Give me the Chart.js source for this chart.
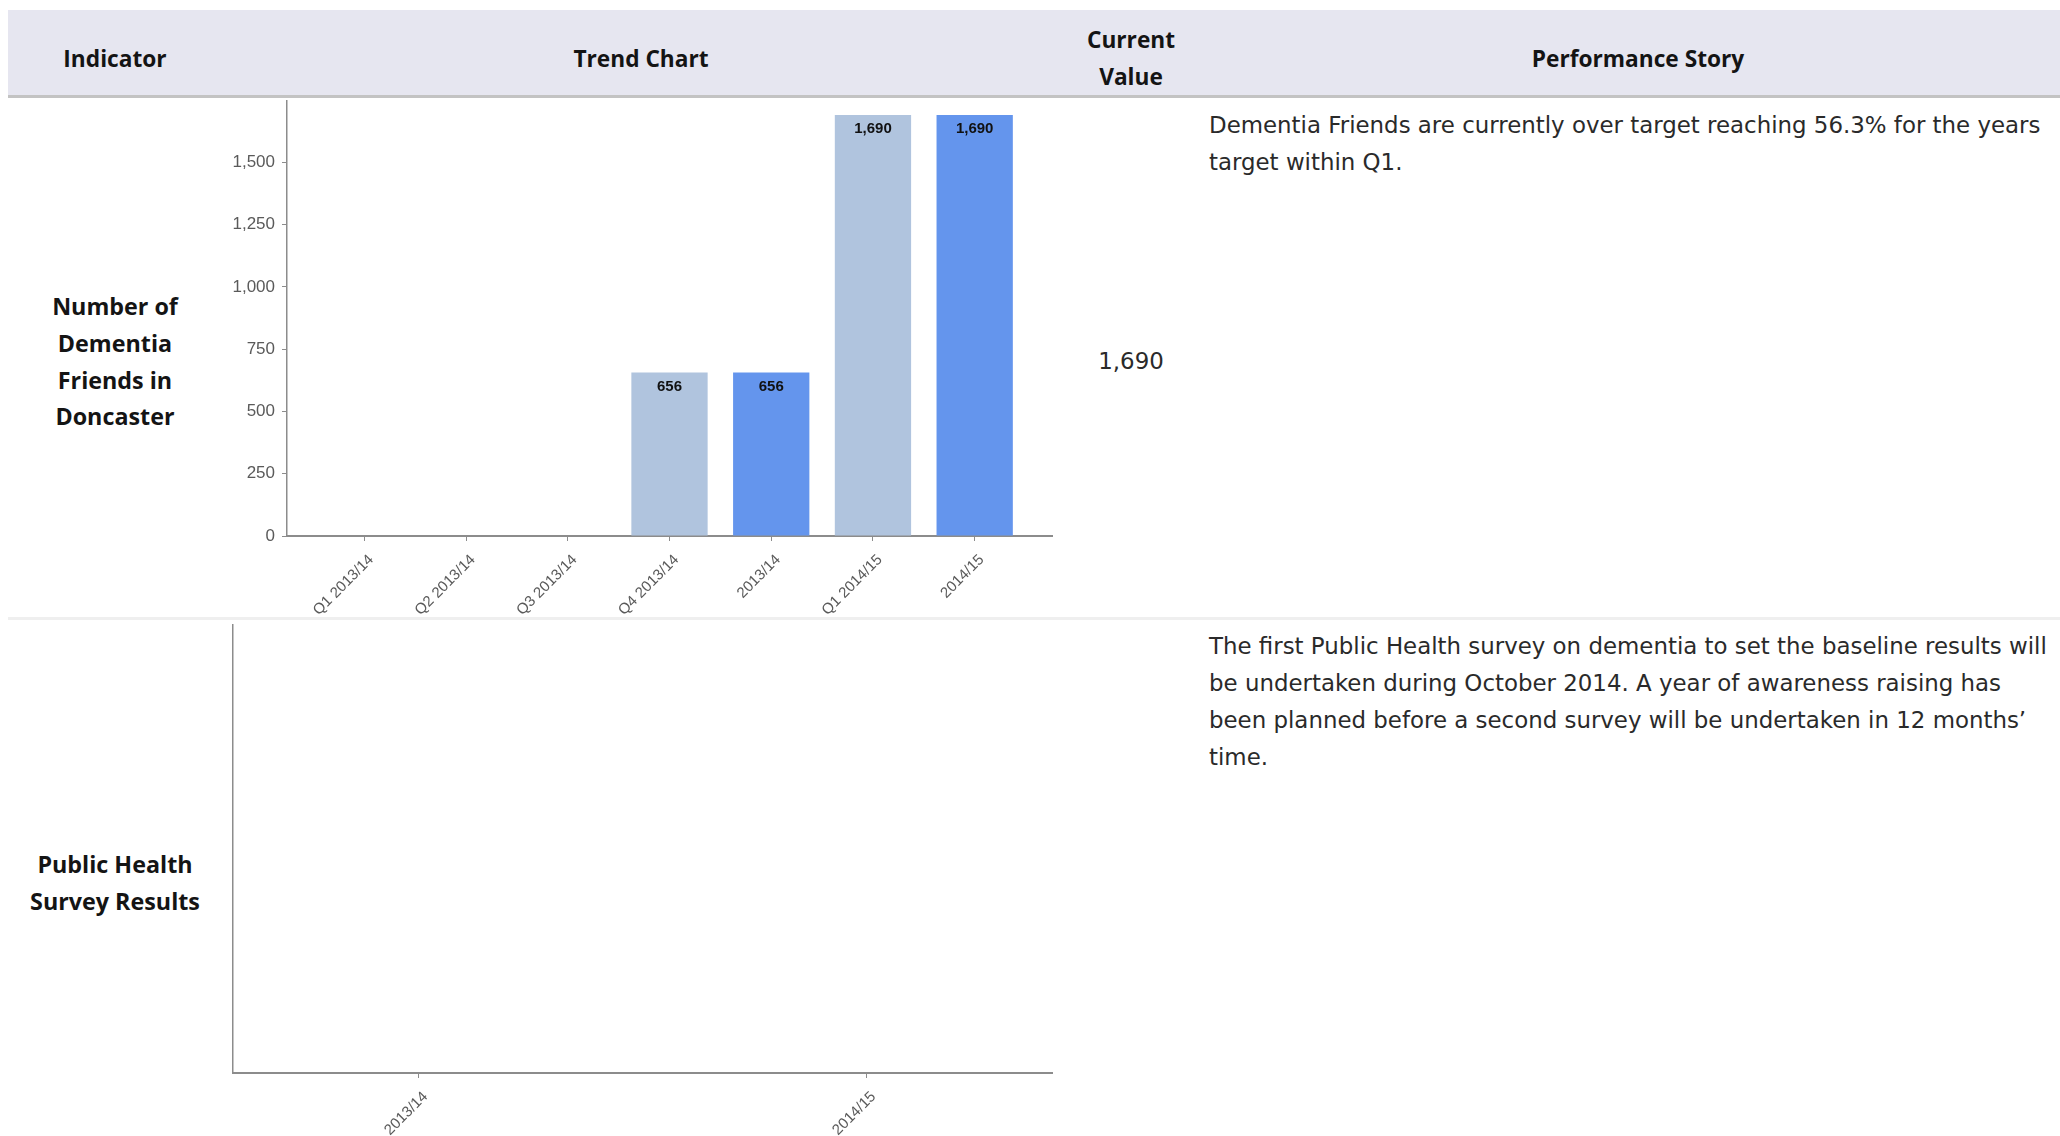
<!DOCTYPE html>
<html>
<head>
<meta charset="utf-8">
<title>Dementia Friends - Trend</title>
<script src="https://cdn.jsdelivr.net/npm/chart.js@4.4.1/dist/chart.umd.min.js"></script>
<style>
  body { margin: 0; width: 2060px; height: 1136px; background: #fff; overflow: hidden; position: relative; font-family: "Open Sans", sans-serif; color: #262626; }
  .head { position: absolute; left: 8px; top: 10px; width: 2052px; height: 85px; background: #e6e6f0; border-bottom: 3px solid #c3c3c3; }
  .sep { position: absolute; left: 8px; top: 617px; width: 2052px; height: 3px; background: #efefef; }
  .txt { position: absolute; font-size: 22.7px; line-height: 37px; white-space: nowrap; }
  .ind { font-size: 23.3px; line-height: 36.8px; }
  .body { font-family: "DejaVu Sans", sans-serif; font-size: 22.9px; color: #2a2a2a; }
  .c { transform: translateX(-50%); text-align: center; }
  .b { font-weight: 700; color: #141414; }
  .box { position: absolute; }
</style>
</head>
<body>

<div class="head"></div>
<div class="sep"></div>

<!-- cabecera -->
<div class="txt c b" style="left:115px; top:40px;">Indicator</div>
<div class="txt c b" style="left:641px; top:40px;">Trend Chart</div>
<div class="txt c b" style="left:1131px; top:21px;">Current<br>Value</div>
<div class="txt c b" style="left:1638px; top:40px;">Performance Story</div>

<!-- fila 1 -->
<div class="txt c b ind" style="left:115px; top:288px;">Number of<br>Dementia<br>Friends in<br>Doncaster</div>
<div class="txt c body" style="left:1131px; top:343px;">1,690</div>
<div class="txt body" style="left:1209px; top:107px;">Dementia Friends are currently over target reaching 56.3% for the years<br>target within Q1.</div>

<!-- fila 2 -->
<div class="txt c b ind" style="left:115px; top:846px;">Public Health<br>Survey Results</div>
<div class="txt body" style="left:1209px; top:628px;">The first Public Health survey on dementia to set the baseline results will<br>be undertaken during October 2014. A year of awareness raising has<br>been planned before a second survey will be undertaken in 12 months’<br>time.</div>

<div class="box" style="left:200px; top:84px;"><canvas id="chartFriends" width="860" height="536"></canvas></div>
<div class="box" style="left:200px; top:620px;"><canvas id="chartSurvey" width="860" height="516"></canvas></div>

<script>
// Datos del gráfico 1
const friendsLabels = ["Q1 2013/14", "Q2 2013/14", "Q3 2013/14", "Q4 2013/14", "2013/14", "Q1 2014/15", "2014/15"];
const friendsValues = [null, null, null, 656, 656, 1690, 1690];
const friendsColors = ["#b0c4de", "#b0c4de", "#b0c4de", "#b0c4de", "#6495ed", "#b0c4de", "#6495ed"];
const friendsTicks = [0, 250, 500, 750, 1000, 1250, 1500];

// Datos del gráfico 2 (sin resultados todavía)
const surveyLabels = ["2013/14", "2014/15"];
const surveyValues = [null, null];

Chart.defaults.font.family = "'Liberation Sans', Arial, sans-serif";
Chart.defaults.color = "#5a5a5a";

const fmt = v => v.toLocaleString("en-US");

// etiquetas de valor dentro de la barra
const barLabels = {
  id: "barLabels",
  afterDatasetsDraw(chart) {
    const ctx = chart.ctx;
    const meta = chart.getDatasetMeta(0);
    ctx.save();
    ctx.font = "bold 15px 'Liberation Sans', Arial, sans-serif";
    ctx.fillStyle = "#111";
    ctx.textAlign = "center";
    ctx.textBaseline = "middle";
    meta.data.forEach((bar, i) => {
      const v = chart.data.datasets[0].data[i].y;
      if (v == null) return;
      ctx.fillText(fmt(v), bar.x, bar.y + 14);
    });
    ctx.restore();
  }
};

const axisGrid = { drawOnChartArea: false, drawTicks: true, tickLength: 5, color: "#8c8c8c", offset: false };
const xTickFont = { size: 15 };

const ctx1 = document.getElementById("chartFriends").getContext("2d");
new Chart(ctx1, {
  type: "bar",
  data: {
    datasets: [{
      data: friendsValues.map((v, i) => ({ x: i, y: v })),
      backgroundColor: friendsColors,
      barPercentage: 0.75,
      categoryPercentage: 1
    }]
  },
  options: {
    responsive: false,
    animation: false,
    layout: { padding: { top: 12, right: 8, left: 0, bottom: 0 } },
    plugins: { legend: { display: false }, tooltip: { enabled: false } },
    scales: {
      x: {
        type: "linear",
        offset: false,
        min: -0.76,
        max: 6.76,
        afterBuildTicks: axis => { axis.ticks = friendsLabels.map((_, i) => ({ value: i })); },
        afterFit: axis => { axis.height = 84; },
        grid: axisGrid,
        border: { display: true, color: "#8c8c8c", width: 2 },
        ticks: {
          autoSkip: false,
          minRotation: 45,
          maxRotation: 45,
          padding: 10,
          labelOffset: 7,
          font: xTickFont,
          callback: v => friendsLabels[v]
        }
      },
      y: {
        min: 0,
        max: 1745,
        afterBuildTicks: axis => { axis.ticks = friendsTicks.map(v => ({ value: v })); },
        afterFit: axis => { axis.width = 87; },
        grid: axisGrid,
        border: { display: true, color: "#8c8c8c", width: 1.5 },
        ticks: { padding: 7, font: { size: 17 }, callback: v => fmt(v) }
      }
    }
  },
  plugins: [barLabels]
});

const ctx2 = document.getElementById("chartSurvey").getContext("2d");
new Chart(ctx2, {
  type: "bar",
  data: {
    datasets: [{
      data: surveyValues.map((v, i) => ({ x: i, y: v })),
      backgroundColor: "#6495ed"
    }]
  },
  options: {
    responsive: false,
    animation: false,
    layout: { padding: { top: 5, right: 8, left: 0, bottom: 0 } },
    plugins: { legend: { display: false }, tooltip: { enabled: false } },
    scales: {
      x: {
        type: "linear",
        offset: false,
        min: -0.414,
        max: 1.414,
        afterBuildTicks: axis => { axis.ticks = surveyLabels.map((_, i) => ({ value: i })); },
        afterFit: axis => { axis.height = 63; },
        grid: axisGrid,
        border: { display: true, color: "#8c8c8c", width: 2 },
        ticks: {
          autoSkip: false,
          minRotation: 45,
          maxRotation: 45,
          padding: 10,
          labelOffset: 7,
          font: xTickFont,
          callback: v => surveyLabels[v]
        }
      },
      y: {
        min: 0,
        max: 1,
        afterFit: axis => { axis.width = 33; },
        grid: { display: false },
        border: { display: true, color: "#8c8c8c", width: 1.5 },
        ticks: { display: false }
      }
    }
  }
});
</script>
</body>
</html>
